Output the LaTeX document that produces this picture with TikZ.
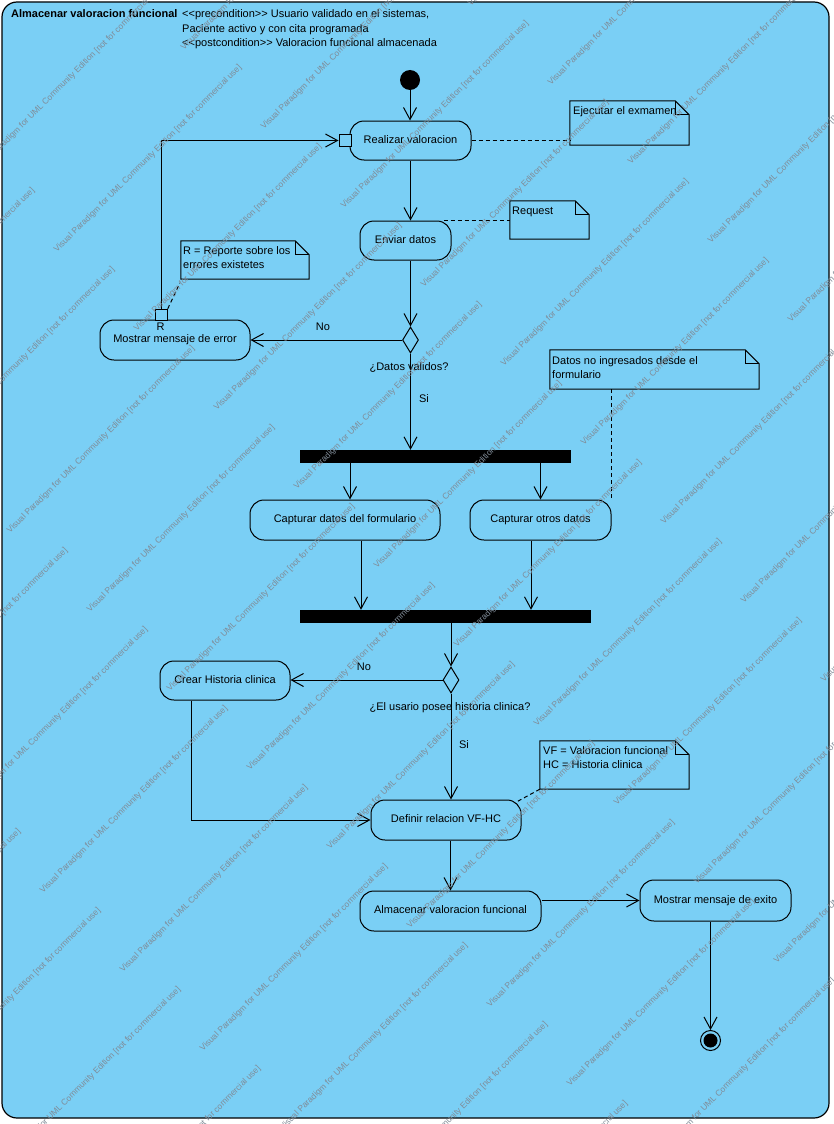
\documentclass[tikz,border=0pt]{standalone}
\usepackage{fontspec}
\setmainfont{Liberation Sans}[Ligatures=TeXOff]
\usetikzlibrary{arrows.meta,shapes.geometric,calc}
\definecolor{actblue}{RGB}{122,207,245}
\definecolor{wmgray}{RGB}{128,140,152}
% UML note outline with a folded top-right corner, drawn around a node
\newcommand\drawnote[1]{%
  \draw[line width=1pt, fill=actblue] (#1.north west) -- ([xshift=-14pt]#1.north east)
    -- ([yshift=-14pt]#1.north east) -- (#1.south east) -- (#1.south west) -- cycle;
  \draw[line width=1pt] ([xshift=-14pt]#1.north east) -- ([xshift=-14pt,yshift=-14pt]#1.north east)
    -- ([yshift=-14pt]#1.north east);}
\begin{document}
\begin{tikzpicture}[x=1pt,y=-1pt,
  every node/.style={font=\fontsize{11}{13}\selectfont},
  act/.style={draw, fill=actblue, rounded corners=14pt, line width=1pt, inner sep=0pt,
    text height=8pt, text depth=2.3pt},
  pinbox/.style={draw, fill=actblue, line width=1pt, minimum size=12pt, inner sep=0pt},
  bar/.style={fill=black, inner sep=0pt, minimum height=13pt},
  decision/.style={diamond, draw, fill=actblue, line width=1pt, inner sep=0pt,
    minimum width=16pt, minimum height=26pt},
  notearea/.style={inner sep=0pt},
  lbl/.style={inner sep=0pt, text height=8pt, text depth=2.3pt},
  txt/.style={inner sep=0pt, anchor=base west},
  flow/.style={line width=1pt, -{Straight Barb[length=12pt,width=13pt]}},
  anchorline/.style={line width=1pt, dash pattern=on 4pt off 3pt},
  wm/.style={font=\fontsize{8.5}{9}\selectfont, text=wmgray, rotate=45, anchor=base west, inner sep=0pt},
]
\useasboundingbox (0,0) rectangle (834,1124);
\fill[white] (0,0) rectangle (834,1124);

% activity frame
\draw[line width=1.2pt, fill=actblue, rounded corners=15pt] (2,2) rectangle (829,1118);
\node[txt, font=\bfseries\fontsize{11}{13}\selectfont] (title) at (11,18) {Almacenar valoracion funcional};
\node[txt] (pre) at (182,18) {<<precondition>> Usuario validado en el sistemas,};
\node[txt] (pre2) at (182,32.5) {Paciente activo y con cita programada};
\node[txt] (post) at (182,47) {<<postcondition>> Valoracion funcional almacenada};

% nodes
\node[circle, fill=black, minimum size=20pt, inner sep=0pt] (start) at (410,80) {};
\node[act, minimum width=121pt, minimum height=39pt] (real) at (410.5,140.5) {Realizar valoracion};
\node[pinbox] (pinin) at (345,140.5) {};
\node[act, minimum width=91pt, minimum height=39pt] (env) at (405.5,240.5) {Enviar datos};
\node[decision] (d1) at (410.5,340) {};
\node[act, minimum width=150pt, minimum height=40pt] (err) at (175,340) {Mostrar mensaje de error};
\node[pinbox, minimum size=11.5pt] (pinout) at (161.5,315) {};
\node[lbl] (pinR) at (160.5,328) {R};
\node[lbl] (no1) at (323,328) {No};
\node[lbl] (q1) at (409,368) {¿Datos validos?};
\node[lbl] (si1) at (424,400) {Si};

\node[bar, minimum width=271pt] (fork) at (435.5,456.5) {};
\node[act, minimum width=190pt, minimum height=40pt] (cdf) at (345,520) {Capturar datos del formulario};
\node[act, minimum width=141pt, minimum height=40pt] (cod) at (540.5,520) {Capturar otros datos};
\node[bar, minimum width=291pt] (join) at (445.5,616.5) {};

\node[decision] (d2) at (451,680) {};
\node[act, minimum width=130pt, minimum height=39pt] (crear) at (225,680.5) {Crear Historia clinica};
\node[lbl] (no2) at (364,668) {No};
\node[lbl] (q2) at (450,708) {¿El usario posee historia clinica?};
\node[lbl] (si2) at (464,746) {Si};
\node[act, minimum width=150pt, minimum height=40pt] (def) at (446,820) {Definir relacion VF-HC};
\node[act, minimum width=181pt, minimum height=40pt] (alm) at (450.5,911) {Almacenar valoracion funcional};
\node[act, minimum width=151pt, minimum height=41pt] (exito) at (715.5,900.5) {Mostrar mensaje de exito};
\node[circle, draw, line width=1pt, minimum size=20pt, inner sep=0pt] (fin) at (710.5,1040.5) {};
\node[circle, fill=black, minimum size=14pt, inner sep=0pt] (finc) at (fin) {};

% control flows
\draw[flow] (start.south) -- (start.south |- real.north);
\draw[flow] (real.south) -- (real.south |- env.north);
\draw[flow] (d1.north |- env.south) -- (d1.north);
\draw[flow] (d1.west) -- (err.east);
\draw[flow] (pinout.north) |- (pinin.west);
\draw[flow] (d1.south) -- (d1.south |- fork.north);
\coordinate (f1) at ([xshift=5pt]cdf.north);
\draw[flow] (f1 |- fork.south) -- (f1);
\draw[flow] (cod.north |- fork.south) -- (cod.north);
\coordinate (j1) at ([xshift=16pt]cdf.south);
\coordinate (j2) at ([xshift=-9.5pt]cod.south);
\draw[flow] (j1) -- (j1 |- join.north);
\draw[flow] (j2) -- (j2 |- join.north);
\draw[flow] (d2.north |- join.south) -- (d2.north);
\draw[flow] (d2.west) -- (d2.west -| crear.east);
\draw[flow] (d2.south) -- (d2.south |- def.north);
\coordinate (c1) at ([xshift=-34pt]crear.south);
\draw[flow] (c1) |- (def.west);
\draw[flow] (alm.north |- def.south) -- (alm.north);
\draw[flow] (exito.west -| alm.east) -- (exito.west);
\draw[flow] (fin.north |- exito.south) -- (fin.north);

% notes
\node[notearea, minimum width=119pt, minimum height=44pt] (n1) at (629.5,123) {};
\drawnote{n1}
\node[txt] (n1a) at (573,114) {Ejecutar el exmamen};
\draw[anchorline] (real.east) -- (real.east -| n1.west);

\node[notearea, minimum width=79pt, minimum height=38pt] (n2) at (549.5,220) {};
\drawnote{n2}
\node[txt] (n2a) at (512,214) {Request};
\draw[anchorline] ([xshift=-8pt]env.north east) -- (n2.west |- env.north);

\node[notearea, minimum width=128pt, minimum height=38pt] (n3) at (245,260) {};
\drawnote{n3}
\node[txt] (n3a) at (183,254) {R = Reporte sobre los};
\node[txt] (n3b) at (183,268) {errores existetes};
\draw[anchorline] (pinout.north east) -- ([xshift=-1pt,yshift=-4pt]n3.south west);

\node[notearea, minimum width=209pt, minimum height=39pt] (n4) at (654.5,369.5) {};
\drawnote{n4}
\node[txt] (n4a) at (552,364) {Datos no ingresados desde el};
\node[txt] (n4b) at (552,378.5) {formulario};
\draw[anchorline] (n4.south -| cod.north east) -- (cod.north east);

\node[notearea, minimum width=149pt, minimum height=48pt] (n5) at (614.5,765) {};
\drawnote{n5}
\node[txt] (n5a) at (543,754) {VF = Valoracion funcional};
\node[txt] (n5b) at (543,768) {HC = Historia clinica};
\draw[anchorline] (n5.south west) -- ([xshift=-6pt,yshift=-3pt]def.north east);

% edition watermark
\begin{scope}
\clip (0,0) rectangle (834,1124);
\foreach \i in {-14,...,5}{
  \foreach \j in {-4,...,6}{
    \node[wm] (wm-\i-\j) at ({490+80*\i+207*\j},{1008+79*\i-123*\j})
      {Visual Paradigm for UML Community Edition [not for commercial use]};
  }
}
\end{scope}
\end{tikzpicture}
\end{document}
